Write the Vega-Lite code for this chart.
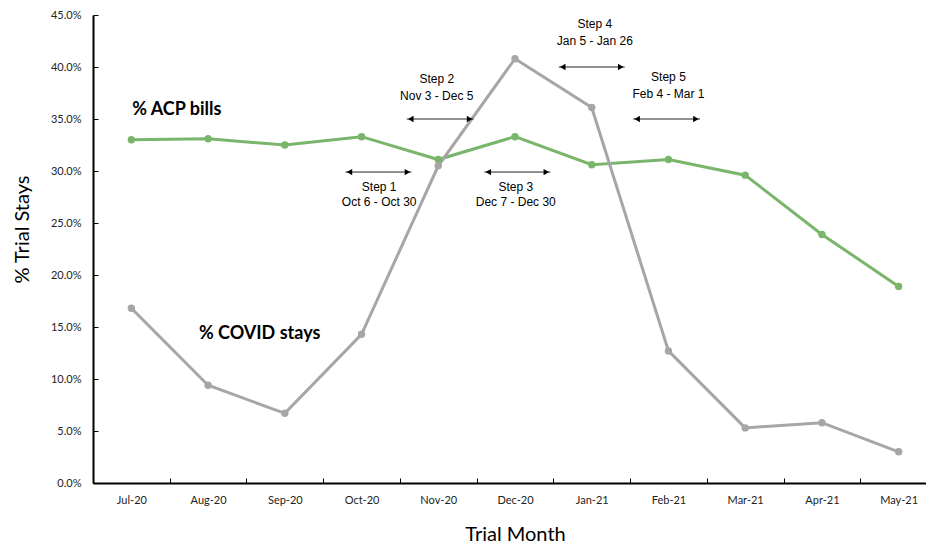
{
  "$schema": "https://vega.github.io/schema/vega-lite/v6.json",
  "width": 844,
  "height": 468,
  "autosize": {"type": "none"},
  "padding": {"left": 93, "top": 15, "right": 0, "bottom": 61},
  "background": "white",
  "config": {
    "view": {"stroke": null},
    "font": "Lato",
    "axis": {
      "grid": false,
      "domainColor": "black",
      "domainWidth": 2,
      "tickColor": "black",
      "tickWidth": 1,
      "tickSize": -5,
      "labelColor": "#222222",
      "labelFont": "Lato",
      "labelFontSize": 11,
      "labelFontWeight": "normal",
      "titleFont": "Lato",
      "titleFontSize": 20,
      "titleFontWeight": "normal",
      "titleColor": "black"
    }
  },
  "datasets": {
    "series": [
      {"month": "Jul-20", "series": "ACP", "value": 0.330},
      {"month": "Aug-20", "series": "ACP", "value": 0.331},
      {"month": "Sep-20", "series": "ACP", "value": 0.325},
      {"month": "Oct-20", "series": "ACP", "value": 0.333},
      {"month": "Nov-20", "series": "ACP", "value": 0.311},
      {"month": "Dec-20", "series": "ACP", "value": 0.333},
      {"month": "Jan-21", "series": "ACP", "value": 0.306},
      {"month": "Feb-21", "series": "ACP", "value": 0.311},
      {"month": "Mar-21", "series": "ACP", "value": 0.296},
      {"month": "Apr-21", "series": "ACP", "value": 0.239},
      {"month": "May-21", "series": "ACP", "value": 0.189},
      {"month": "Jul-20", "series": "COVID", "value": 0.168},
      {"month": "Aug-20", "series": "COVID", "value": 0.094},
      {"month": "Sep-20", "series": "COVID", "value": 0.067},
      {"month": "Oct-20", "series": "COVID", "value": 0.143},
      {"month": "Nov-20", "series": "COVID", "value": 0.305},
      {"month": "Dec-20", "series": "COVID", "value": 0.408},
      {"month": "Jan-21", "series": "COVID", "value": 0.361},
      {"month": "Feb-21", "series": "COVID", "value": 0.127},
      {"month": "Mar-21", "series": "COVID", "value": 0.053},
      {"month": "Apr-21", "series": "COVID", "value": 0.058},
      {"month": "May-21", "series": "COVID", "value": 0.030}
    ],
    "arrows": [
      {"step": "Step 1", "x1": 3.29, "x2": 4.15, "y": 0.299},
      {"step": "Step 2", "x1": 4.09, "x2": 4.96, "y": 0.350},
      {"step": "Step 3", "x1": 5.10, "x2": 5.96, "y": 0.299},
      {"step": "Step 4", "x1": 6.07, "x2": 6.93, "y": 0.400},
      {"step": "Step 5", "x1": 7.04, "x2": 7.91, "y": 0.350}
    ],
    "steptext": [
      {"label": "Step 1", "x": 3.73, "y": 0.285},
      {"label": "Oct 6 - Oct 30", "x": 3.73, "y": 0.270},
      {"label": "Step 2", "x": 4.48, "y": 0.388},
      {"label": "Nov 3 - Dec 5", "x": 4.48, "y": 0.372},
      {"label": "Step 3", "x": 5.51, "y": 0.285},
      {"label": "Dec 7 - Dec 30", "x": 5.51, "y": 0.270},
      {"label": "Step 4", "x": 6.54, "y": 0.441},
      {"label": "Jan 5 - Jan 26", "x": 6.54, "y": 0.425},
      {"label": "Step 5", "x": 7.50, "y": 0.390},
      {"label": "Feb 4 - Mar 1", "x": 7.50, "y": 0.374}
    ],
    "serieslabels": [
      {"label": "% ACP bills", "x": 0.51, "y": 0.3585},
      {"label": "% COVID stays", "x": 1.38, "y": 0.143}
    ]
  },
  "layer": [
    {
      "data": {"name": "series"},
      "encoding": {
        "x": {
          "field": "month",
          "type": "ordinal",
          "sort": ["Jul-20", "Aug-20", "Sep-20", "Oct-20", "Nov-20", "Dec-20", "Jan-21", "Feb-21", "Mar-21", "Apr-21", "May-21"],
          "scale": {"type": "band", "paddingInner": 0, "paddingOuter": 0},
          "axis": {"title": "Trial Month", "labelAngle": 0, "tickBand": "extent", "labelPadding": 16, "titlePadding": 19}
        },
        "y": {
          "field": "value",
          "type": "quantitative",
          "title": "% Trial Stays",
          "scale": {"domain": [0, 0.45]},
          "axis": {
            "title": "% Trial Stays",
            "format": ".1%",
            "values": [0, 0.05, 0.1, 0.15, 0.2, 0.25, 0.3, 0.35, 0.4, 0.45],
            "labelPadding": 17,
            "titlePadding": 18,
            "titleY": 214
          }
        },
        "color": {
          "field": "series",
          "type": "nominal",
          "scale": {"domain": ["ACP", "COVID"], "range": ["#7ab56c", "#a6a6a6"]},
          "legend": null
        }
      },
      "layer": [
        {"mark": {"type": "line", "strokeWidth": 3}},
        {"mark": {"type": "point", "filled": true, "size": 55, "opacity": 1}}
      ]
    },
    {
      "layer": [
        {
          "data": {"name": "arrows"},
          "mark": {"type": "rule", "color": "#222222", "strokeWidth": 1},
          "encoding": {
            "x": {"field": "x1", "type": "quantitative", "scale": {"domain": [0, 11]}, "axis": null},
            "x2": {"field": "x2"},
            "y": {"field": "y", "type": "quantitative", "title": "% Trial Stays"}
          }
        },
        {
          "data": {"name": "arrows"},
          "mark": {"type": "point", "shape": "triangle-left", "filled": true, "color": "black", "size": 40, "opacity": 1, "xOffset": 4},
          "encoding": {
            "x": {"field": "x1", "type": "quantitative", "scale": {"domain": [0, 11]}, "axis": null},
            "y": {"field": "y", "type": "quantitative", "title": "% Trial Stays"}
          }
        },
        {
          "data": {"name": "arrows"},
          "mark": {"type": "point", "shape": "triangle-right", "filled": true, "color": "black", "size": 40, "opacity": 1, "xOffset": -4},
          "encoding": {
            "x": {"field": "x2", "type": "quantitative", "scale": {"domain": [0, 11]}, "axis": null},
            "y": {"field": "y", "type": "quantitative", "title": "% Trial Stays"}
          }
        },
        {
          "data": {"name": "steptext"},
          "mark": {"type": "text", "font": "Liberation Sans", "fontSize": 12, "color": "black", "align": "center", "baseline": "middle"},
          "encoding": {
            "x": {"field": "x", "type": "quantitative", "scale": {"domain": [0, 11]}, "axis": null},
            "y": {"field": "y", "type": "quantitative", "title": "% Trial Stays"},
            "text": {"field": "label"}
          }
        },
        {
          "data": {"name": "serieslabels"},
          "mark": {"type": "text", "font": "Lato", "fontSize": 18, "fontWeight": "bold", "color": "black", "align": "left", "baseline": "middle"},
          "encoding": {
            "x": {"field": "x", "type": "quantitative", "scale": {"domain": [0, 11]}, "axis": null},
            "y": {"field": "y", "type": "quantitative", "title": "% Trial Stays"},
            "text": {"field": "label"}
          }
        }
      ]
    }
  ],
  "resolve": {"scale": {"x": "independent"}}
}
